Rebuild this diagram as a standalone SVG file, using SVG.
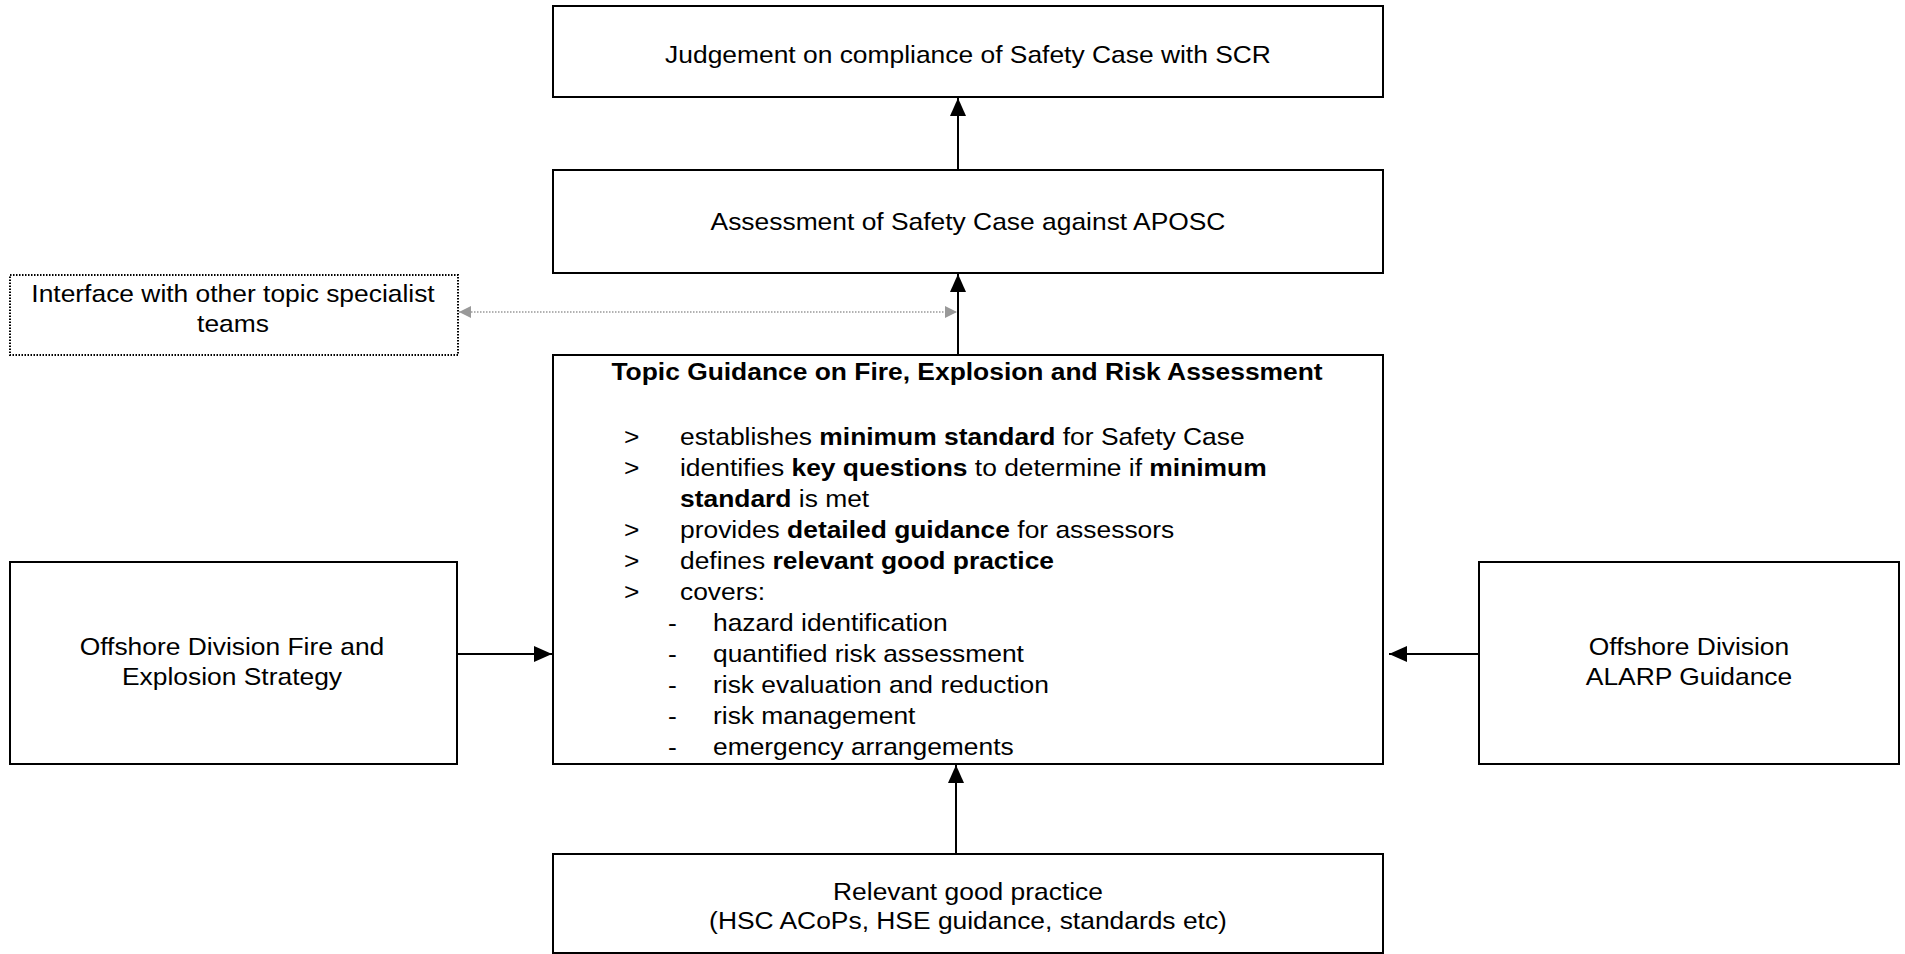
<svg xmlns="http://www.w3.org/2000/svg" width="1905" height="954" viewBox="0 0 1905 954">
<style>
  .box { fill: #ffffff; stroke: #000000; stroke-width: 2; }
  .dotbox { fill: #ffffff; stroke: #000000; stroke-width: 2; stroke-dasharray: 1.5 1.5; }
  text { font-family: "Liberation Sans", Arial, Helvetica, sans-serif; font-size: 24px; fill: #000000; }
  .c { text-anchor: middle; }
  .b { font-weight: bold; }
  .conn { stroke: #000000; stroke-width: 2; fill: none; }
  .dconn { stroke: #999999; stroke-width: 1.5; stroke-dasharray: 1.5 1.5; fill: none; }
</style>
<defs>
  <marker id="ah" markerUnits="userSpaceOnUse" markerWidth="18" markerHeight="16" refX="18" refY="8" orient="auto">
    <path d="M0,0 L18,8 L0,16 z" fill="#000000"/>
  </marker>
  <marker id="gh" markerUnits="userSpaceOnUse" markerWidth="12" markerHeight="12" refX="12" refY="6" orient="auto-start-reverse">
    <path d="M0,0 L12,6 L0,12 z" fill="#999999"/>
  </marker>
</defs>

<g id="connectors">
  <line class="conn" x1="958" y1="170" x2="958" y2="98" marker-end="url(#ah)"/>
  <line class="conn" x1="958" y1="355" x2="958" y2="274" marker-end="url(#ah)"/>
  <line class="conn" x1="457" y1="654" x2="552" y2="654" marker-end="url(#ah)"/>
  <line class="conn" x1="1479" y1="654" x2="1389" y2="654" marker-end="url(#ah)"/>
  <line class="conn" x1="956" y1="854" x2="956" y2="765" marker-end="url(#ah)"/>
  <line class="dconn" x1="459" y1="312" x2="957" y2="312" marker-start="url(#gh)" marker-end="url(#gh)"/>
</g>

<g id="node-judgement">
  <rect class="box" x="553" y="6" width="830" height="91"/>
  <text class="c" transform="translate(968 63) scale(1.1 1)">Judgement on compliance of Safety Case with SCR</text>
</g>

<g id="node-assessment">
  <rect class="box" x="553" y="170" width="830" height="103"/>
  <text class="c" transform="translate(968 230) scale(1.1 1)">Assessment of Safety Case against APOSC</text>
</g>

<g id="node-interface">
  <rect class="dotbox" x="10" y="275" width="448" height="80"/>
  <text class="c" transform="translate(233 302) scale(1.1 1)">Interface with other topic specialist</text>
  <text class="c" transform="translate(233 332) scale(1.1 1)">teams</text>
</g>

<g id="node-topic">
  <rect class="box" x="553" y="355" width="830" height="409"/>
  <text class="c b" transform="translate(967 380) scale(1.1 1)">Topic Guidance on Fire, Explosion and Risk Assessment</text>
  <text transform="translate(624 445) scale(1.1 1)">&gt;</text>
  <text transform="translate(680 445) scale(1.1 1)">establishes <tspan class="b">minimum standard</tspan> for Safety Case</text>
  <text transform="translate(624 476) scale(1.1 1)">&gt;</text>
  <text transform="translate(680 476) scale(1.1 1)">identifies <tspan class="b">key questions</tspan> to determine if <tspan class="b">minimum</tspan></text>
  <text transform="translate(680 507) scale(1.1 1)"><tspan class="b">standard</tspan> is met</text>
  <text transform="translate(624 538) scale(1.1 1)">&gt;</text>
  <text transform="translate(680 538) scale(1.1 1)">provides <tspan class="b">detailed guidance</tspan> for assessors</text>
  <text transform="translate(624 569) scale(1.1 1)">&gt;</text>
  <text transform="translate(680 569) scale(1.1 1)">defines <tspan class="b">relevant good practice</tspan></text>
  <text transform="translate(624 600) scale(1.1 1)">&gt;</text>
  <text transform="translate(680 600) scale(1.1 1)">covers:</text>
  <text transform="translate(668 631) scale(1.1 1)">-</text>
  <text transform="translate(713 631) scale(1.1 1)">hazard identification</text>
  <text transform="translate(668 662) scale(1.1 1)">-</text>
  <text transform="translate(713 662) scale(1.1 1)">quantified risk assessment</text>
  <text transform="translate(668 693) scale(1.1 1)">-</text>
  <text transform="translate(713 693) scale(1.1 1)">risk evaluation and reduction</text>
  <text transform="translate(668 724) scale(1.1 1)">-</text>
  <text transform="translate(713 724) scale(1.1 1)">risk management</text>
  <text transform="translate(668 755) scale(1.1 1)">-</text>
  <text transform="translate(713 755) scale(1.1 1)">emergency arrangements</text>
</g>

<g id="node-fire-strategy">
  <rect class="box" x="10" y="562" width="447" height="202"/>
  <text class="c" transform="translate(232 655) scale(1.1 1)">Offshore Division Fire and</text>
  <text class="c" transform="translate(232 685) scale(1.1 1)">Explosion Strategy</text>
</g>

<g id="node-alarp">
  <rect class="box" x="1479" y="562" width="420" height="202"/>
  <text class="c" transform="translate(1689 655) scale(1.1 1)">Offshore Division</text>
  <text class="c" transform="translate(1689 685) scale(1.1 1)">ALARP Guidance</text>
</g>

<g id="node-good-practice">
  <rect class="box" x="553" y="854" width="830" height="99"/>
  <text class="c" transform="translate(968 900) scale(1.1 1)">Relevant good practice</text>
  <text class="c" transform="translate(968 929) scale(1.1 1)">(HSC ACoPs, HSE guidance, standards etc)</text>
</g>
</svg>
